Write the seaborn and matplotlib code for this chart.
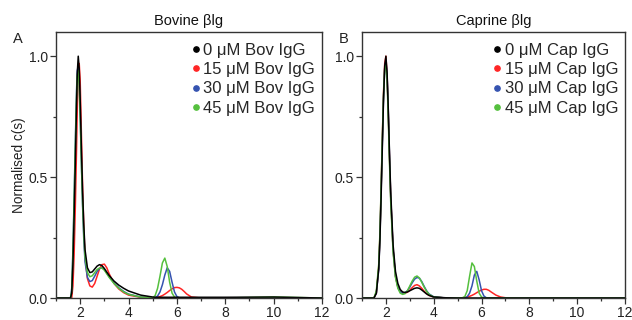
import numpy as np
import pandas as pd
import matplotlib
matplotlib.use('Agg')
import matplotlib.pyplot as plt
from matplotlib.lines import Line2D
from matplotlib.ticker import MultipleLocator
import seaborn as sns

# sedimentation coefficient grids (S)
s_a = [1.0, 1.55, 1.6, 1.65, 1.7, 1.75, 1.8, 1.85, 1.88, 1.92,
       1.96, 2.0, 2.05, 2.1, 2.15, 2.2, 2.3, 2.4, 2.5, 2.6,
       2.7, 2.8, 2.9, 3.0, 3.1, 3.2, 3.4, 3.6, 3.8, 4.0,
       4.5, 5.0, 5.1, 5.2, 5.3, 5.4, 5.5, 5.6, 5.7, 5.8,
       5.9, 6.0, 6.1, 6.2, 6.3, 6.4, 6.6, 7.0, 8.0, 10.0,
       12.0]

bov_0 = [0, 0, 0, 0.02, 0.14, 0.34, 0.56, 0.80, 0.93, 1.00,
         0.95, 0.82, 0.62, 0.44, 0.30, 0.20, 0.125, 0.105, 0.108, 0.12,
         0.132, 0.138, 0.134, 0.122, 0.107, 0.093, 0.07, 0.053, 0.04, 0.029,
         0.012, 0.004, 0.003, 0.003, 0.003, 0.003, 0.003, 0.003, 0.003, 0.003,
         0.003, 0.003, 0.003, 0.003, 0.003, 0.003, 0.003, 0.003, 0.003, 0.004,
         0.0]
bov_15 = [0, 0, 0, 0, 0.05, 0.18, 0.38, 0.62, 0.78, 0.93,
          0.97, 0.90, 0.68, 0.46, 0.29, 0.17, 0.08, 0.05, 0.045, 0.06,
          0.09, 0.12, 0.138, 0.14, 0.125, 0.10, 0.06, 0.037, 0.022, 0.012,
          0.003, 0.0, 0.001, 0.003, 0.006, 0.01, 0.016, 0.023, 0.031, 0.038,
          0.043, 0.044, 0.042, 0.036, 0.027, 0.017, 0.004, 0, 0, 0,
          0]
bov_30 = [0, 0, 0, 0.04, 0.20, 0.42, 0.65, 0.86, 0.94, 0.96,
          0.90, 0.76, 0.56, 0.38, 0.24, 0.15, 0.085, 0.068, 0.072, 0.09,
          0.11, 0.122, 0.125, 0.118, 0.103, 0.088, 0.062, 0.042, 0.027, 0.016,
          0.004, 0, 0.002, 0.008, 0.025, 0.055, 0.095, 0.125, 0.11, 0.065,
          0.025, 0.006, 0.001, 0, 0, 0, 0, 0, 0, 0,
          0]
bov_45 = [0, 0, 0, 0.03, 0.18, 0.40, 0.63, 0.84, 0.92, 0.94,
          0.88, 0.75, 0.56, 0.39, 0.26, 0.17, 0.105, 0.088, 0.092, 0.105,
          0.118, 0.124, 0.124, 0.115, 0.10, 0.085, 0.06, 0.04, 0.025, 0.015,
          0.004, 0.001, 0.01, 0.04, 0.09, 0.145, 0.165, 0.13, 0.065, 0.02,
          0.004, 0, 0, 0, 0, 0, 0, 0, 0, 0.004,
          0]

s_b = [1.0, 1.5, 1.6, 1.7, 1.75, 1.8, 1.85, 1.9, 1.95, 2.0,
       2.05, 2.1, 2.15, 2.2, 2.3, 2.4, 2.5, 2.6, 2.7, 2.8,
       2.9, 3.0, 3.1, 3.2, 3.3, 3.4, 3.5, 3.6, 3.7, 3.8,
       4.0, 4.5, 5.0, 5.2, 5.3, 5.4, 5.5, 5.6, 5.7, 5.8,
       5.9, 6.0, 6.1, 6.2, 6.3, 6.4, 6.6, 6.8, 7.0, 8.0,
       12.0]

cap_0 = [0, 0, 0.02, 0.12, 0.24, 0.42, 0.62, 0.82, 0.96, 1.00,
         0.93, 0.78, 0.60, 0.44, 0.22, 0.11, 0.06, 0.035, 0.025, 0.023,
         0.025, 0.03, 0.035, 0.04, 0.042, 0.04, 0.033, 0.025, 0.017, 0.011,
         0.004, 0.001, 0, 0, 0, 0, 0, 0, 0, 0,
         0, 0, 0, 0, 0, 0, 0, 0, 0, 0,
         0]
cap_15 = [0, 0, 0.02, 0.13, 0.26, 0.45, 0.66, 0.85, 0.97, 1.00,
          0.92, 0.76, 0.58, 0.42, 0.20, 0.09, 0.045, 0.027, 0.02, 0.02,
          0.024, 0.032, 0.043, 0.052, 0.055, 0.05, 0.04, 0.028, 0.018, 0.011,
          0.004, 0, 0, 0.001, 0.002, 0.004, 0.007, 0.011, 0.016, 0.022,
          0.028, 0.033, 0.036, 0.036, 0.032, 0.025, 0.012, 0.004, 0.001, 0,
          0]
cap_30 = [0, 0, 0.02, 0.12, 0.25, 0.44, 0.64, 0.83, 0.95, 0.98,
          0.92, 0.77, 0.59, 0.42, 0.20, 0.09, 0.045, 0.025, 0.02, 0.022,
          0.03, 0.045, 0.063, 0.078, 0.085, 0.082, 0.068, 0.048, 0.03, 0.017,
          0.005, 0, 0, 0, 0.001, 0.005, 0.02, 0.05, 0.095, 0.11,
          0.075, 0.03, 0.008, 0.001, 0, 0, 0, 0, 0, 0,
          0]
cap_45 = [0, 0, 0.03, 0.14, 0.27, 0.46, 0.66, 0.84, 0.95, 0.97,
          0.90, 0.74, 0.56, 0.40, 0.19, 0.085, 0.04, 0.02, 0.015, 0.018,
          0.03, 0.05, 0.07, 0.086, 0.091, 0.083, 0.065, 0.045, 0.028, 0.015,
          0.004, 0, 0, 0.001, 0.006, 0.03, 0.09, 0.145, 0.13, 0.07,
          0.02, 0.004, 0, 0, 0, 0, 0, 0, 0, 0,
          0]

doses = ['0', '15', '30', '45']
colors = {'0': '#000000', '15': '#ff2525', '30': '#3553b0', '45': '#55c03e'}
draw_order = ['15', '30', '45', '0']

panels = [
    ('A', 'Bovine \u03b2lg', 'Bov', s_a, [bov_0, bov_15, bov_30, bov_45]),
    ('B', 'Caprine \u03b2lg', 'Cap', s_b, [cap_0, cap_15, cap_30, cap_45]),
]

sns.set_theme(style='ticks')
plt.rcParams['font.family'] = ['Liberation Sans', 'DejaVu Sans']
plt.rcParams['font.size'] = 10
ink = '#333333'

fig = plt.figure(figsize=(6.32, 3.2), dpi=100)
lefts = [56 / 632, 362 / 632]
widths = [266 / 632, 263 / 632]

for i, (letter, title, short, s, series) in enumerate(panels):
    ax = fig.add_axes([lefts[i], 22 / 320, widths[i], 266 / 320])
    df = pd.concat([pd.DataFrame({'s': s, 'c': v, 'dose': d})
                    for d, v in zip(doses, series)])
    for d in draw_order:
        sns.lineplot(data=df[df['dose'] == d], x='s', y='c', color=colors[d],
                     linewidth=1.1, ax=ax, legend=False, sort=False)
    ax.set_xlim(1, 12)
    ax.set_ylim(0, 1.1)
    ax.xaxis.set_major_locator(MultipleLocator(2))
    ax.xaxis.set_minor_locator(MultipleLocator(1))
    ax.yaxis.set_major_locator(MultipleLocator(0.5))
    ax.yaxis.set_minor_locator(MultipleLocator(0.25))
    ax.set_yticks([0, 0.5, 1.0])
    ax.set_yticklabels(['0.0', '0.5', '1.0'])
    ax.tick_params(which='major', length=4, width=0.9, color=ink,
                   labelsize=10, labelcolor='#222222', pad=2)
    ax.tick_params(which='minor', length=2.5, width=0.9, color=ink)
    for sp in ax.spines.values():
        sp.set_visible(True)
        sp.set_color(ink)
        sp.set_linewidth(1.0)
    ax.set_xlabel('')
    ax.set_ylabel('Normalised c(s)' if i == 0 else '', fontsize=9.8,
                  color='#222222', labelpad=2)
    ax.set_title(title, fontsize=10.5, pad=5, color='#111111')
    ax.text(-0.16 if i == 0 else -0.09, 1.0, letter, transform=ax.transAxes,
            fontsize=10.5, color='#222222', va='top', ha='left')

    handles = [Line2D([], [], marker='o', linestyle='', color=colors[d],
                      markersize=3.8, label=f'{d} \u03bcM {short} IgG')
               for d in doses]
    ax.legend(handles=handles, loc='upper right', bbox_to_anchor=(1.015, 1.0),
              frameon=False, fontsize=12, handletextpad=0.1, handlelength=0.7,
              labelspacing=0.26, borderaxespad=0.35, borderpad=0.3)

fig.savefig('out.png', dpi=100)
